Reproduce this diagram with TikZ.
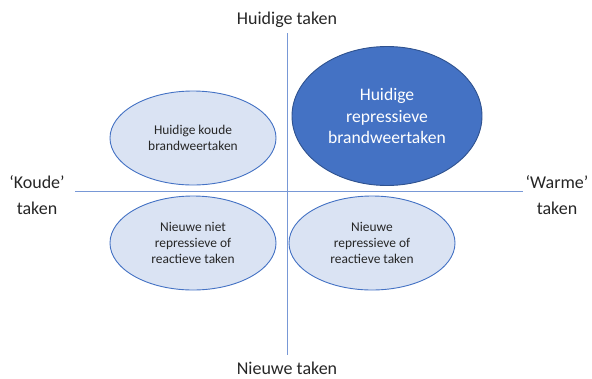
\documentclass[tikz,border=0pt]{standalone}
\usepackage{fontspec}
\setmainfont{Carlito}
\usepackage{xcolor}
\usepackage{tikz}
\usetikzlibrary{shapes.geometric, positioning}
\definecolor{axisline}{RGB}{120, 152, 214}
\definecolor{officeblue}{RGB}{68, 114, 196}
\definecolor{darkrim}{RGB}{47, 82, 143}
\definecolor{lightfill}{RGB}{218, 227, 243}
\definecolor{textgray}{RGB}{38, 38, 38}

\begin{document}
\begin{tikzpicture}[
    x=1pt, y=-1pt,
    axis/.style={draw=axisline, line width=0.9pt},
    axislabel/.style={align=center, text=textgray, inner sep=0pt, font=\fontsize{18}{26}\selectfont},
    quadrant/.style={ellipse, draw=officeblue, fill=lightfill, line width=0.9pt, inner sep=0pt, minimum width=166pt, minimum height=94pt, align=center, text=textgray, font=\fontsize{13.4}{15.8}\selectfont},
    current/.style={ellipse, draw=darkrim, fill=officeblue, line width=0.9pt, inner sep=0pt, minimum width=190pt, minimum height=139pt, align=center, text=white, font=\fontsize{17.6}{21.3}\selectfont}
]
    \useasboundingbox (0,0) rectangle (592,378);

    % Axes
    \coordinate (north) at (287,33);
    \coordinate (south) at (287,355);
    \coordinate (west) at (75,191);
    \coordinate (east) at (523,191);
    \draw[axis] (north) -- (south);
    \draw[axis] (west) -- (east);

    % Axis labels
    \node[axislabel] (huidig) at (287,20) {Huidige taken};
    \node[axislabel] (nieuw) at (287,368) {Nieuwe taken};
    \node[axislabel] (koude) at (37,195) {‘Koude’\\taken};
    \node[axislabel] (warme) at (557,195) {‘Warme’\\taken};

    % Quadrants
    \node[quadrant] (koudhuidig) at (193,138) {Huidige koude\\brandweertaken};
    \node[current] (warmhuidig) at (387,116) {Huidige\\repressieve\\brandweertaken};
    \node[quadrant] (koudnieuw) at (193,243) {Nieuwe niet\\repressieve of\\reactieve taken};
    \node[quadrant] (warmnieuw) at (372,243) {Nieuwe\\repressieve of\\reactieve taken};
\end{tikzpicture}
\end{document}
